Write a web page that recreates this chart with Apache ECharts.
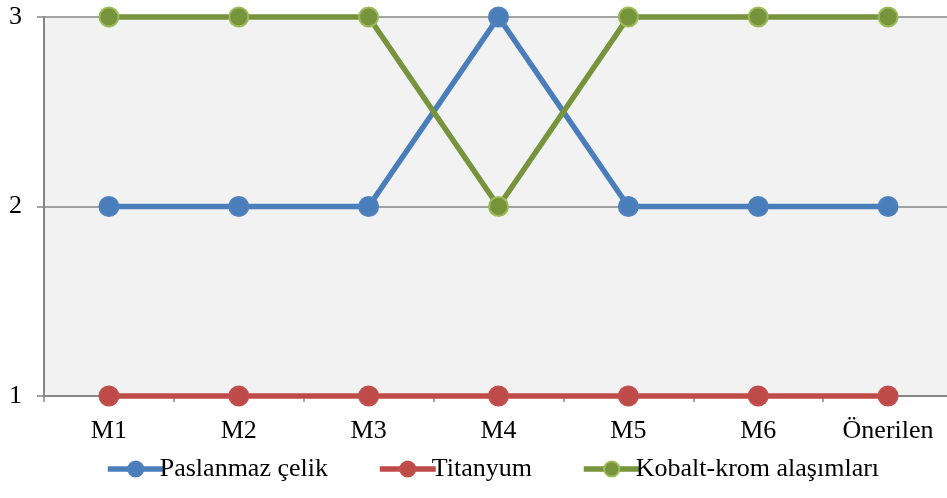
<!DOCTYPE html>
<html>
<head>
<meta charset="utf-8">
<script src="https://cdn.jsdelivr.net/npm/echarts@6/dist/echarts.min.js"></script>
<style>
  html, body { margin: 0; padding: 0; background: #ffffff; overflow: hidden; }
  #chart { width: 953px; height: 498px; }
</style>
</head>
<body>
<div id="chart"></div>
<script>
// Categories along the x axis
const categories = ['M1', 'M2', 'M3', 'M4', 'M5', 'M6', 'Önerilen'];

// Series values (rank 1–3)
const paslanmazCelik = [2, 2, 2, 3, 2, 2, 2];
const titanyum = [1, 1, 1, 1, 1, 1, 1];
const kobaltKrom = [3, 3, 3, 2, 3, 3, 3];

// Series names
const seriesNames = ['Paslanmaz çelik', 'Titanyum', 'Kobalt-krom alaşımları'];

const FONT = '"Liberation Serif", "Times New Roman", serif';
const AXIS_GRAY = '#868686';

const chart = echarts.init(document.getElementById('chart'), null, { renderer: 'canvas' });

function lineSeries(name, data, lineColor, fill, border) {
  return {
    name: name,
    type: 'line',
    data: data,
    clip: false,
    symbol: 'circle',
    symbolSize: 19,
    lineStyle: { color: lineColor, width: 5.5 },
    itemStyle: { color: fill, borderColor: border, borderWidth: 2 },
    emphasis: { disabled: true },
    animation: false
  };
}

function legendAt(name, left) {
  return {
    data: [name],
    left: left,
    top: 451,
    itemWidth: 56,
    itemHeight: 19,
    itemGap: 0,
    lineStyle: { width: 5.5 },
    textStyle: { fontFamily: FONT, fontSize: 26, color: '#000000', padding: [0, 0, 0, -9] },
    selectedMode: false
  };
}

chart.setOption({
  animation: false,
  grid: {
    left: 44,
    right: 0,
    top: 17,
    bottom: 102,
    show: true,
    backgroundColor: '#f2f2f2',
    borderWidth: 0
  },
  legend: [
    legendAt(seriesNames[0], 100),
    legendAt(seriesNames[1], 372),
    legendAt(seriesNames[2], 576)
  ],
  xAxis: {
    type: 'category',
    data: categories,
    boundaryGap: true,
    axisLine: { show: true, lineStyle: { color: AXIS_GRAY, width: 2 } },
    axisTick: { show: true, length: 6, lineStyle: { color: AXIS_GRAY, width: 1.5 } },
    axisLabel: { fontFamily: FONT, fontSize: 26, color: '#000000', margin: 22 },
    splitLine: { show: false }
  },
  yAxis: {
    type: 'value',
    min: 1,
    max: 3,
    interval: 1,
    axisLine: { show: true, lineStyle: { color: AXIS_GRAY, width: 2 } },
    axisTick: { show: true, length: 7, lineStyle: { color: AXIS_GRAY, width: 1.5 } },
    axisLabel: { fontFamily: FONT, fontSize: 26, color: '#000000', margin: 22 },
    splitLine: { show: true, lineStyle: { color: AXIS_GRAY, width: 1.5 } }
  },
  series: [
    lineSeries(seriesNames[0], paslanmazCelik, '#4a7ebb', '#4a7ebb', '#4f81bd'),
    lineSeries(seriesNames[1], titanyum, '#be4b48', '#be4b48', '#c0504d'),
    lineSeries(seriesNames[2], kobaltKrom, '#77933c', '#77933c', '#9bbb59')
  ]
});
</script>
</body>
</html>
